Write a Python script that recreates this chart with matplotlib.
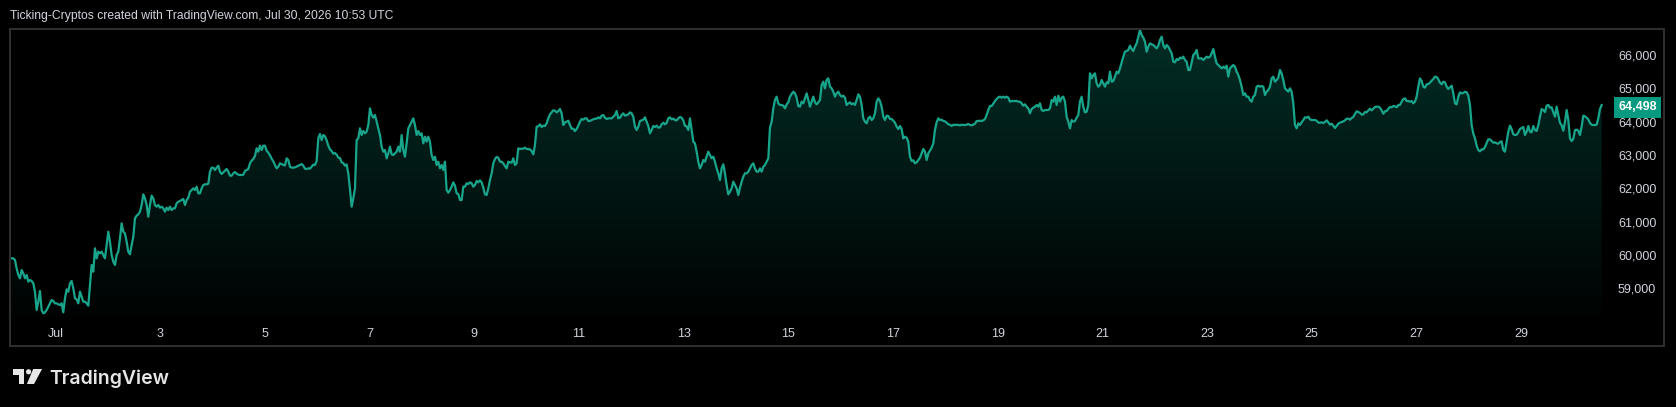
import numpy as np
import pandas as pd
import matplotlib
matplotlib.use('Agg')
import matplotlib.pyplot as plt
import matplotlib.dates as mdates
import matplotlib.transforms as mtransforms
from matplotlib.patches import Rectangle, Polygon, Ellipse

# BTC close, Jun 30 -> Jul 30 (evenly spaced samples)
close = [
    # Jun 30 - Jul 3
    59900, 59900, 59850, 59600, 59400, 59300, 59550, 59450, 59300, 59400, 59200, 59250, 59220, 59150, 58900,
    58350, 58600, 58920, 58350, 58250, 58280, 58350, 58450, 58550, 58650, 58620, 58550, 58550, 58520, 58500,
    58550, 58280, 58700, 58970, 58900, 59150, 59220, 59000, 58700, 58670, 58550, 58900, 58750, 58600, 58600,
    58550, 58480, 59100, 59700, 59500, 60200, 59900, 60100, 60050, 60100, 60000, 59900, 60300, 60700, 60400,
    60000, 59800, 59700, 60000, 60100, 60500, 60950, 60700, 60650, 60400, 60100, 60020, 60300, 60550, 61100,
    61180, 61220, 61300, 61500, 61820, 61700, 61500, 61150, 61500, 61780, 61700, 61500, 61450, 61500, 61420,
    61450, 61400, 61300, 61420, 61350, 61450, 61350, 61400, 61400, 61550, 61600, 61620, 61650, 61680, 61500,
    61650, 61720, 61900, 61950, 62000, 61950, 62050, 61850,
    # Jul 3 - Jul 7
    61850, 62000, 62100, 62120, 62120, 62140, 62500, 62620, 62620, 62550, 62620, 62680, 62500, 62430, 62480,
    62530, 62580, 62500, 62380, 62380, 62450, 62490, 62440, 62410, 62400, 62400, 62410, 62520, 62550, 62580,
    62750, 62830, 62880, 62970, 63200, 63100, 63280, 63150, 63280, 63280, 63130, 63070, 62990, 62890, 62810,
    62700, 62600, 62650, 62750, 62730, 62700, 62690, 62900, 62850, 62650, 62620, 62620, 62630, 62650, 62680,
    62700, 62730, 62680, 62590, 62580, 62600, 62590, 62650, 62710, 62700, 62820, 63500, 63630, 63450, 63600,
    63560, 63440, 63280, 63170, 63120, 63040, 63060, 63010, 62920, 62910, 62780, 62760, 62680, 62720, 62450,
    61980, 61450, 61700, 62000, 63450, 63500, 63800, 63600, 63720, 63650, 63700, 63900, 64400, 64200, 64120,
    64200, 64000, 63800, 63600, 63250, 63100, 63150, 62900, 63050, 63250, 63020, 63000, 63050, 63100, 63250,
    # Jul 7 - Jul 11
    63100, 63600, 63150, 62950, 63350, 63800, 63900, 64000, 64100, 63900, 63600, 63720, 63600, 63650, 63350,
    63550, 63400, 63550, 63400, 63000, 62850, 62950, 62700, 62800, 62600, 62700, 62550, 62800, 61950, 61870,
    61950, 62050, 62180, 62080, 61850, 61830, 61650, 61650, 62050, 62050, 62150, 62130, 62180, 62150, 62050,
    62100, 62220, 62180, 62240, 62180, 62020, 61820, 61800, 62000, 62250, 62450, 62750, 62880, 62940, 62920,
    62800, 62800, 62750, 62670, 62600, 62800, 62780, 62770, 62900, 62700, 62750, 63200, 63180, 63190, 63190,
    63220, 63180, 63180, 63170, 63120, 63020, 63300, 63850, 63860, 63920, 63840, 63880, 63870, 63950, 64100,
    64220, 64280, 64340, 64330, 64280, 64320, 64380, 64250, 63900, 63980, 64000, 64030, 63900, 63790, 63790,
    63720, 63780, 63880, 64000, 64080, 64060, 64100, 64100, 64020, 64020, 64050, 64070, 64090, 64090, 64130,
    # Jul 11 - Jul 15
    64100, 64180, 64200, 64120, 64080, 64100, 64100, 64100, 64150, 64200, 64320, 64100, 64120, 64200, 64250,
    64180, 64200, 64220, 64280, 64250, 64150, 63850, 63750, 63850, 64020, 64040, 64060, 64130, 64000, 63870,
    63650, 63750, 63870, 63840, 63880, 63820, 63830, 63920, 63970, 63920, 63960, 64100, 64130, 64070, 64090,
    64050, 64040, 64100, 64140, 64120, 64040, 63880, 63860, 63750, 64100, 63750, 63400, 63350, 63100, 62800,
    62600, 62700, 62850, 62800, 62950, 63100, 63000, 62900, 62950, 62800, 62600, 62450, 62250, 62600, 62720,
    62450, 62100, 61820, 61900, 62000, 62200, 62100, 62000, 61800, 62020, 62200, 62350, 62450, 62450, 62500,
    62600, 62700, 62750, 62600, 62500, 62500, 62600, 62500, 62650, 62700, 62800, 62900, 63820, 64000, 64400,
    64650, 64750, 64550, 64500, 64500, 64480, 64400, 64520, 64580, 64750, 64830, 64900, 64850, 64720, 64470,
    # Jul 15 - Jul 19
    64450, 64600, 64550, 64700, 64850, 64650, 64450, 64600, 64750, 64580, 64520, 64580, 64650, 65100, 65200,
    65000, 65250, 65300, 65050, 65000, 64900, 64750, 64850, 64900, 64800, 64750, 64780, 64720, 64500, 64550,
    64580, 64520, 64550, 64500, 64650, 64820, 64750, 64500, 64100, 64000, 63950, 64100, 64150, 64050, 64100,
    64250, 64600, 64700, 64620, 64450, 64150, 64050, 64180, 64170, 64080, 64080, 64030, 63970, 63850, 63780,
    63870, 63780, 63500, 63550, 63520, 63400, 62950, 62820, 62840, 62750, 62780, 62850, 62920, 63050, 63180,
    63100, 62850, 63050, 63130, 63220, 63350, 63750, 63980, 64100, 64050, 64060, 64020, 64010, 63970, 63920,
    63910, 63870, 63910, 63900, 63910, 63900, 63890, 63910, 63900, 63900, 63910, 63930, 63900, 63890, 63910,
    63940, 64020, 64020, 64030, 64020, 64040, 64080, 64200, 64350, 64470, 64470, 64540, 64620, 64680, 64730,
    # Jul 19 - Jul 23
    64750, 64720, 64750, 64720, 64750, 64720, 64600, 64620, 64620, 64620, 64620, 64600, 64600, 64550, 64480,
    64520, 64450, 64400, 64250, 64380, 64420, 64450, 64500, 64450, 64550, 64350, 64320, 64350, 64350, 64350,
    64400, 64650, 64600, 64750, 64500, 64780, 64600, 64720, 64750, 64600, 64150, 64000, 63800, 64050, 64000,
    64020, 64120, 64200, 64600, 64750, 64450, 64280, 64300, 64500, 65450, 65300, 65400, 65450, 65150, 65050,
    65100, 65250, 65150, 65050, 65180, 65150, 65500, 65200, 65220, 65350, 65500, 65450, 65600, 65780, 65950,
    66100, 66120, 66150, 66280, 66180, 66120, 66250, 66350, 66550, 66750, 66600, 66520, 66400, 66100, 66250,
    66350, 66320, 66300, 66250, 66200, 66280, 66450, 66550, 66300, 66200, 66300, 66250, 66150, 66050, 65800,
    65780, 65880, 65850, 65920, 65900, 65950, 65850, 65800, 65550, 65550, 65780, 66000, 66050, 66150, 65900,
    # Jul 23 - Jul 27
    65900, 65900, 65850, 65900, 65950, 65920, 65950, 66050, 66180, 65950, 65750, 65700, 65650, 65600, 65650,
    65600, 65680, 65350, 65600, 65650, 65700, 65650, 65500, 65400, 65250, 65050, 64800, 64850, 64750, 64750,
    64650, 64600, 64750, 64800, 65050, 65080, 65050, 65070, 65050, 64800, 64900, 64950, 65050, 65300, 65350,
    65200, 65250, 65320, 65550, 65450, 65250, 65000, 64950, 64900, 65000, 64900, 64550, 63900, 63800, 63950,
    63900, 63980, 64050, 64130, 64120, 64150, 64070, 64050, 64050, 64050, 64030, 63970, 63970, 63980, 63960,
    63990, 64040, 63980, 63910, 63940, 63880, 63810, 63870, 63940, 63970, 63990, 64010, 64040, 64090, 64090,
    64060, 64110, 64140, 64230, 64310, 64290, 64260, 64210, 64220, 64290, 64280, 64340, 64390, 64340, 64390,
    64440, 64450, 64450, 64420, 64340, 64240, 64310, 64320, 64390, 64440, 64430, 64470, 64460, 64430, 64500,
    # Jul 27 - Jul 30
    64500, 64600, 64680, 64700, 64620, 64620, 64600, 64620, 64550, 64600, 64750, 65050, 65300, 65220, 65050,
    65020, 65120, 65130, 65170, 65230, 65280, 65350, 65340, 65270, 65170, 65120, 65200, 65180, 65050, 64980,
    65030, 65080, 64850, 64550, 64520, 64750, 64880, 64850, 64860, 64900, 64880, 64780, 64500, 63900, 63640,
    63500, 63280, 63150, 63110, 63170, 63170, 63240, 63360, 63470, 63470, 63420, 63370, 63380, 63350, 63340,
    63390, 63410, 63150, 63100, 63400, 63700, 63880, 63780, 63620, 63600, 63610, 63680, 63780, 63810, 63840,
    63600, 63700, 63870, 63700, 63680, 63870, 63750, 63720, 63900, 64150, 64380, 64350, 64290, 64480, 64500,
    64420, 64430, 64280, 64150, 64450, 64200, 63970, 63890, 63730, 64000, 64350, 64050, 63500, 63420, 63480,
    63750, 63760, 63730, 63600, 63850, 64180, 64160, 64120, 64070, 63960, 63910, 63900, 63900, 63910, 64100,
    64380, 64498,
]
first_time = '2026-06-30 03:52'
last_time = '2026-07-30 12:58'
price_ticks = [59000, 60000, 61000, 62000, 63000, 64000, 65000, 66000]
day_ticks = pd.date_range('2026-07-01', '2026-07-29', freq='2D')
title = 'Ticking-Cryptos created with TradingView.com, Jul 30, 2026 10:53 UTC'

times = pd.date_range(first_time, last_time, periods=len(close))
close = np.array(close, dtype=float)

W, H = 1676, 407
BG = '#000000'
TEAL = '#18a58b'
TXT = '#d1d4dc'
FONT = 'Liberation Sans'

fig = plt.figure(figsize=(W / 100, H / 100), dpi=100, facecolor=BG)
ax = fig.add_axes([10 / W, 1 - 318 / H, 1596 / W, 289 / H], facecolor=BG)

xnum = mdates.date2num(times)
x_lo = mdates.date2num(times[0] - pd.Timedelta(minutes=45))
x_hi = mdates.date2num(times[-1] + pd.Timedelta(hours=2))
y_lo, y_hi = 58110, 66780

# gradient area under the line
grad = np.zeros((256, 1, 4))
grad[:, 0, :3] = matplotlib.colors.to_rgb('#089981')
grad[:, 0, 3] = np.linspace(0.02, 0.30, 256)
im = ax.imshow(grad, extent=[x_lo, x_hi, y_lo, y_hi], origin='lower', aspect='auto', zorder=1)
verts = [(xnum[0], y_lo)] + list(zip(xnum, close)) + [(xnum[-1], y_lo)]
clip = Polygon(verts, closed=True, transform=ax.transData, fc='none', ec='none')
ax.add_patch(clip)
im.set_clip_path(clip)

ax.plot(xnum, close, color=TEAL, lw=1.6, zorder=3, solid_joinstyle='round')

ax.set_xlim(x_lo, x_hi)
ax.set_ylim(y_lo, y_hi)
for s in ax.spines.values():
    s.set_visible(False)

ax.yaxis.tick_right()
ax.set_yticks(price_ticks)
ax.set_yticklabels([f'{p:,}' for p in price_ticks], fontfamily=FONT)
ax.tick_params(axis='y', length=0, pad=8.6, labelsize=9, labelcolor=TXT)

ax.set_xticks(mdates.date2num(day_ticks))
ax.set_xticklabels(['Jul' if d.day == 1 else str(d.day) for d in day_ticks], fontfamily=FONT)
ax.tick_params(axis='x', length=0, pad=7.5, labelsize=9, labelcolor=TXT)

# last price tag on the scale
tr = mtransforms.blended_transform_factory(ax.transAxes, ax.transData)
ax.text(1 + 12 / 1596, close[-1] - 60, f'{close[-1]:,.0f}', transform=tr, ha='left', va='center',
        fontsize=9, fontweight='bold', color='white', fontfamily=FONT, clip_on=False,
        bbox=dict(boxstyle='square,pad=0.36', fc='#089981', ec='none'))

# panel frame
fig.add_artist(Rectangle((9.6 / W, 1 - 346 / H), 1654.4 / W, 317.4 / H, transform=fig.transFigure,
                         fill=False, ec='#2e2e2e', lw=1.5))

fig.text(10 / W, 1 - 15.5 / H, title, ha='left', va='center', fontsize=8.7, color=TXT, fontfamily=FONT)

# TradingView logo
def fp(x, y):
    return (x / W, 1 - y / H)

LOGO = '#e6e6e6'
fig.add_artist(Polygon([fp(12.5, 369), fp(24.3, 369), fp(24.3, 384), fp(18.6, 384), fp(18.6, 374.5),
                        fp(12.5, 374.5)], closed=True, transform=fig.transFigure, fc=LOGO, ec='none'))
fig.add_artist(Ellipse(fp(28.6, 371.8), 5.2 / W, 5.2 / H, transform=fig.transFigure, fc=LOGO, ec='none'))
fig.add_artist(Polygon([fp(33.2, 369), fp(42.1, 369), fp(34.0, 384), fp(26.9, 384)], closed=True,
                       transform=fig.transFigure, fc=LOGO, ec='none'))
fig.text(49 / W, 1 - 384 / H, 'TradingView', ha='left', va='baseline', fontsize=14,
         fontfamily='Inter', fontweight='semibold', color=LOGO)

fig.savefig('out.png', dpi=100, facecolor=BG)
